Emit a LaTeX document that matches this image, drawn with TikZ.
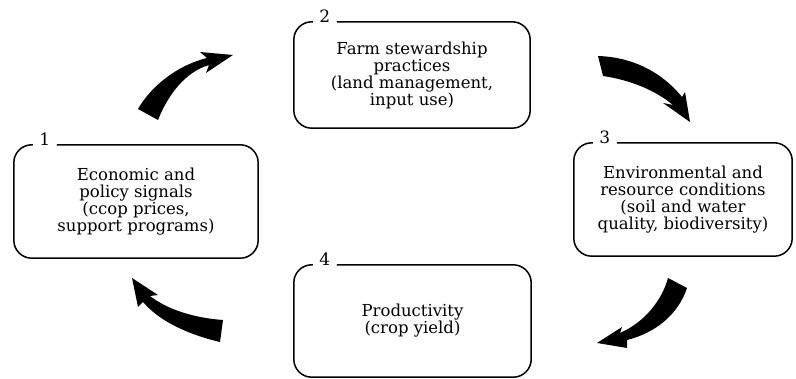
\documentclass[tikz,border=0pt]{standalone}
\usepackage{fontspec}
\setmainfont{DejaVu Serif}
\usetikzlibrary{calc}

% frame with a gap for the stage number
\newcommand{\stageframe}[2]{%
  \draw[frameline] ($(#1.north west)+(19,0)$) -- (#1.north west) -- (#1.south west)
    -- (#1.south east) -- (#1.north east) -- ($(#1.north west)+(43,0)$);
  \node[numlabel] at ($(#1.north west)+(31,1)$) {#2};
}

\begin{document}
\begin{tikzpicture}[x=1pt,y=-1pt,
  stage/.style={inner sep=0pt,align=center,font=\fontsize{16.5}{17}\selectfont},
  frameline/.style={line width=1.5pt,rounded corners=18pt},
  numlabel/.style={anchor=base,inner sep=0pt,font=\fontsize{17}{17}\selectfont}]
  \useasboundingbox (0,0) rectangle (796,379);

  \node[stage,minimum width=244pt,minimum height=113pt] (econ) at (136,201.5)
    {Economic and\\policy signals\\(ccop prices,\\support programs)};
  \node[stage,minimum width=236pt,minimum height=106pt] (farm) at (412,75)
    {Farm stewardship\\practices\\(land management,\\input use)};
  \node[stage,minimum width=218pt,minimum height=113pt] (env) at (683,199.5)
    {Environmental and\\resource conditions\\(soil and water\\quality, biodiversity)};
  \node[stage,minimum width=237pt,minimum height=112pt] (prod) at (412.5,321)
    {Productivity\\(crop yield)};

  \stageframe{econ}{1}
  \stageframe{farm}{2}
  \stageframe{env}{3}
  \stageframe{prod}{4}

  % curved block arrows of the cycle
  \fill (138,109) .. controls (150,88) and (175,66) .. (207,58) -- (200,52) -- (233,55)
    -- (206,73) -- (209,65) .. controls (185,72) and (168,95) .. (158,120) -- cycle;
  \fill (598,56) .. controls (630,57) and (660,70) .. (682,97) -- (685,92) -- (690,122)
    -- (663,103) -- (673,105) .. controls (655,90) and (630,80) .. (603,76) -- cycle;
  \fill (668,278) .. controls (662,300) and (645,322) .. (620,333) -- (622,327) -- (597,343)
    -- (627,348) -- (627,340) .. controls (655,333) and (678,315) .. (687,288) -- cycle;
  \fill (223,320) .. controls (195,318) and (168,310) .. (150,296) -- (158,295) -- (132,278)
    -- (138,307) -- (143,302) .. controls (160,322) and (190,335) .. (220,342) -- cycle;
\end{tikzpicture}
\end{document}
